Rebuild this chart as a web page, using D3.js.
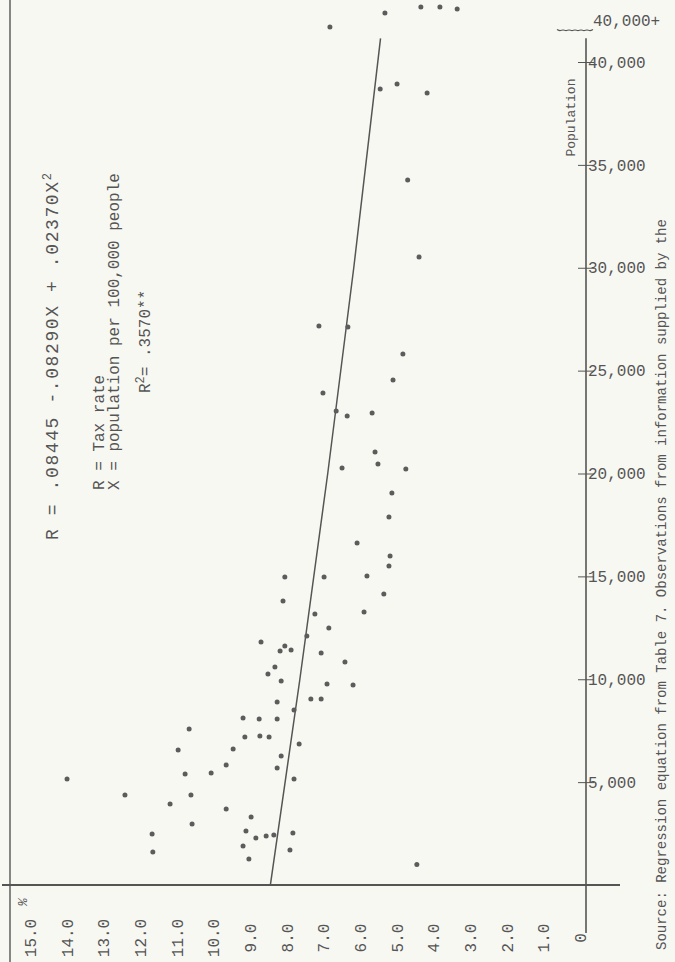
<!DOCTYPE html>
<html>
<head>
<meta charset="utf-8">
<script src="https://cdn.jsdelivr.net/npm/d3@7"></script>
<style>
  body { margin: 0; background: #f8f8f3; }
  svg text { font-family: "Liberation Mono", "DejaVu Sans Mono", monospace; fill: #555; }
</style>
</head>
<body>
<div id="content"></div>
<script>
// tax rate (%) along the bottom, population up the right side
var taxTicks = [15, 14, 13, 12, 11, 10, 9, 8, 7, 6, 5, 4, 3, 2, 1, 0];
var popTicks = [5000, 10000, 15000, 20000, 25000, 30000, 35000, 40000];

var taxRate = [8.10, 8.70, 8.18, 8.05, 7.88, 8.32, 8.51, 8.15, 8.26, 7.80,
               9.19, 8.75, 8.26, 10.66, 9.14, 8.73, 8.48, 7.66, 10.96, 9.46,
               8.15, 9.65, 8.26, 10.77, 10.06, 7.80, 13.99, 12.41, 10.61, 11.18,
               9.65, 8.97, 10.58, 9.11, 7.83, 11.67, 8.84, 8.56, 8.35, 9.19,
               7.91, 11.65, 9.03,
               4.39, 7.12, 6.33, 4.83, 5.10, 7.01, 6.65, 6.35, 5.67, 5.59,
               5.51, 6.49, 4.75, 5.13, 5.21, 6.08, 5.18, 5.21, 8.05, 6.98,
               5.81, 5.35, 7.23, 5.89, 6.85, 7.45, 7.06, 6.41, 6.90, 6.19,
               7.34, 7.06,
               5.32, 4.34, 3.82, 3.35, 5.45, 4.99, 4.17,
               6.82, 4.70, 4.45];
var population = [13800, 11810, 11370, 11615, 11420, 10595, 10255, 9915, 8895, 8505,
                  8115, 8070, 8070, 7580, 7190, 7240, 7190, 6850, 6560, 6610,
                  6270, 5830, 5690, 5395, 5445, 5150, 5150, 4375, 4375, 3935,
                  3695, 3305, 2965, 2625, 2525, 2480, 2285, 2380, 2430, 1895,
                  1700, 1605, 1265,
                  30520, 27170, 27120, 25810, 24540, 23910, 23040, 22790, 22940, 21045,
                  20460, 20270, 20220, 19050, 17885, 16620, 15990, 15505, 14970, 14970,
                  15020, 14140, 13170, 13270, 12490, 12100, 11275, 10840, 9770, 9720,
                  9040, 9040,
                  42380, 42670, 42670, 42570, 38690, 38930, 38490,
                  41700, 34260, 1000];

// regression curve
var fitPop = [0, 10000, 20000, 30000, 41150];
var fitTax = [8.445, 7.64, 6.88, 6.17, 5.44];

var width = 675,
    height = 962;

var xScale = d3.scaleLinear()
                .domain([15, 0])
                .range([30, 580]);

var yScale = d3.scaleLinear()
                .domain([0, 40000])
                .range([885, 62]);

var svg = d3.select('#content').append('svg')
    .attr('width', width)
    .attr('height', height);

var ink = '#555';

// left border and base line
svg.append('line')
    .attr('x1', xScale(15) - 20).attr('x2', xScale(15) - 20)
    .attr('y1', 0).attr('y2', height)
    .style('stroke', ink).style('stroke-width', 1.4);

svg.append('line')
    .attr('x1', 2).attr('x2', xScale(0) + 40)
    .attr('y1', yScale(0)).attr('y2', yScale(0))
    .style('stroke', ink).style('stroke-width', 1.8);

// population axis
var axisX = xScale(0) + 6;
svg.append('line')
    .attr('x1', axisX).attr('x2', axisX)
    .attr('y1', yScale(41150)).attr('y2', yScale(0) + 48)
    .style('stroke', ink).style('stroke-width', 1.6);

var vAxis = d3.axisRight(yScale)
    .tickValues(popTicks)
    .tickFormat(d3.format(','))
    .tickSize(8)
    .tickPadding(-6);

var vGuide = svg.append('g')
    .attr('transform', 'translate(' + axisX + ',0)');
vAxis(vGuide);
vGuide.select('.domain').remove();
vGuide.selectAll('line')
    .attr('x1', -8)
    .style('stroke', ink);
vGuide.selectAll('text')
    .attr('x', 2)
    .style('font-size', '16px')
    .style('font-family', '"Liberation Mono", monospace')
    .style('fill', ink);

// tax rate axis labels
var hAxis = d3.axisBottom(xScale)
    .tickValues(taxTicks)
    .tickFormat(function(d){ return d === 0 ? '0' : d3.format('.1f')(d); })
    .tickSize(0);

var hGuide = svg.append('g')
    .attr('transform', 'translate(0,' + yScale(0) + ')');
hAxis(hGuide);
hGuide.select('.domain').remove();
hGuide.selectAll('text')
    .attr('y', 0)
    .attr('dy', '0.35em')
    .attr('transform', 'translate(0,53) rotate(-90)')
    .attr('text-anchor', 'middle')
    .style('font-size', '16px')
    .style('font-family', '"Liberation Mono", monospace')
    .style('fill', ink);

svg.append('text')
    .attr('transform', 'translate(' + (xScale(15) - 3) + ',' + (yScale(0) + 17) + ') rotate(-90)')
    .attr('text-anchor', 'middle')
    .style('font-size', '13px')
    .style('font-style', 'italic')
    .text('%');

// '40,000 +' marker
svg.append('text')
    .attr('x', axisX + 7)
    .attr('y', yScale(40000) - 36)
    .style('font-size', '16px')
    .text('40,000+');

var wave = d3.range(0, 37, 3).map(function(d, i){
    return [axisX - 29 + d, yScale(40000) - 32 + (i % 2 ? 1.2 : -0.6)];
});
svg.append('path')
    .attr('d', d3.line().curve(d3.curveBasis)(wave))
    .style('fill', 'none')
    .style('stroke', ink)
    .style('stroke-width', 1.2);

svg.append('text')
    .attr('transform', 'translate(' + (axisX - 11) + ',' + yScale(37300) + ') rotate(-90)')
    .attr('text-anchor', 'middle')
    .style('font-size', '13px')
    .text('Population');

// regression curve
var fit = fitPop.map(function(p, i){ return [xScale(fitTax[i]), yScale(p)]; });
svg.append('path')
    .attr('d', d3.line().curve(d3.curveMonotoneY)(fit))
    .style('fill', 'none')
    .style('stroke', ink)
    .style('stroke-width', 1.5);

// observations
svg.selectAll('circle.obs').data(taxRate)
    .enter().append('circle')
    .attr('class', 'obs')
    .attr('cx', function(d){ return xScale(d); })
    .attr('cy', function(d, i){ return yScale(population[i]); })
    .attr('r', 2.5)
    .style('fill', '#5c5c5c');

// equation block
function vtext(x, y, size, str){
    return svg.append('text')
        .attr('transform', 'translate(' + x + ',' + y + ') rotate(-90)')
        .style('font-size', size + 'px')
        .text(str);
}

var eq = vtext(58, 540, 18, 'R = .08445  -.08290X + .02370X');
eq.append('tspan').attr('dy', -7).style('font-size', '12px').text('2');
eq.style('letter-spacing', '1.6px');

vtext(104, 490, 16, 'R = Tax rate');
vtext(119, 490, 16, 'X = population per 100,000 people');

var r2 = vtext(150, 393, 16, 'R');
r2.append('tspan').attr('dy', -6).style('font-size', '12px').text('2');
r2.append('tspan').attr('dy', 6).text('= .3570**');

vtext(666, 950, 14, 'Source: Regression equation from Table 7. Observations from information supplied by the');
</script>
</body>
</html>
